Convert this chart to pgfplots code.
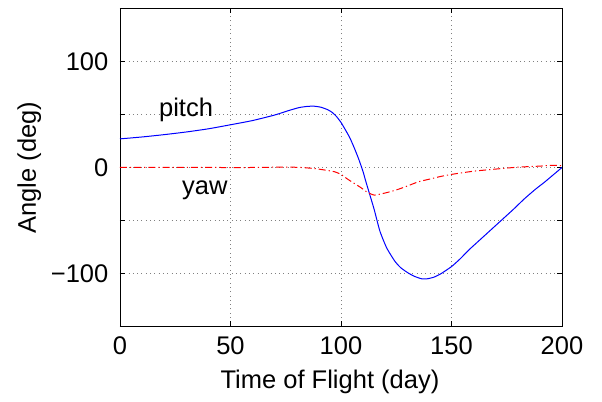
\documentclass[border=0pt]{standalone}
\usepackage{pgfplots}
\pgfplotsset{compat=1.18}
\usepackage{fontspec}
\setmainfont{Liberation Sans}
\begin{document}
\fontsize{25.5bp}{30bp}\selectfont
\begin{tikzpicture}
\begin{axis}[
  scale only axis,
  width=442bp, height=318bp,
  at={(0,0)}, anchor=south west,
  xmin=0, xmax=200, ymin=-150, ymax=150,
  xtick={0,50,100,150,200},
  xticklabels={0,50,100,150,200},
  ytick={-150,-100,-50,0,50,100,150},
  yticklabels={,−100,,0,,100,},
  tick align=inside,
  major tick length=5bp,
  tick style={black, line width=0.6bp},
  axis line style={black, line width=0.8bp},
  grid=major,
  major grid style={gray, line width=0.6bp, dash pattern=on 0.8bp off 3.5bp},
  xticklabel style={yshift=-1.5bp},
  yticklabel style={xshift=-3bp},
  xlabel={Time of Flight (day)},
  ylabel={Angle (deg)},
  xlabel style={at={(axis description cs:0.475,-0.173)}, anchor=center},
  ylabel style={at={(axis description cs:-0.205,0.5)}, anchor=center},
  clip=true,
]
\addplot[blue, line width=1bp, smooth, tension=0.35] coordinates {
(0,27) (10,28.8) (20,31) (30,33.5) (40,36.5) (50,40.3) (60,44.3) (70,49.5)
(76,53.5) (81,56.5) (85,57.7) (88,57.8) (91,56.8) (94,54.5) (96,52) (98,48)
(100,42.5) (102,35.5) (104,28) (106,18.5) (108,8) (110,-4) (111,-11.5)
(113,-25.5) (115,-39.5) (117.6,-60) (120.7,-76) (124.4,-88.5) (127,-94.5)
(130,-99) (133,-102.5) (136.5,-105) (139,-105) (142,-103.5) (145,-100.5)
(150,-93.5) (154,-86) (158,-77.5) (163,-68) (168,-58.5) (173,-49)
(178,-39.5) (183,-29.5) (188,-20.5) (192,-14) (196,-7) (200,0)
};
\addplot[red, line width=1bp, smooth, tension=0.35, dash pattern=on 7bp off 3bp on 1.2bp off 3bp] coordinates {
(0,0) (20,0) (40,0) (60,0) (75,0.4) (82,0) (88,-1) (93,-2.5) (97,-4)
(100,-6.5) (103,-11) (106,-15) (109,-19) (112,-23.5) (115,-26) (118,-25)
(122,-23) (126,-20.5) (130,-17.5) (135,-13.5) (140,-11) (145,-8.5)
(150,-6.5) (160,-3.5) (170,-1.5) (180,0.3) (190,1.3) (195,2) (200,1.8)
};
\node[anchor=base west, inner sep=0pt] at (axis cs:17.6,48) {pitch};
\node[anchor=base west, inner sep=0pt] at (axis cs:28,-25.5) {yaw};
\end{axis}
\path (-120bp,-74bp) rectangle (482bp,325bp);
\end{tikzpicture}
\end{document}
